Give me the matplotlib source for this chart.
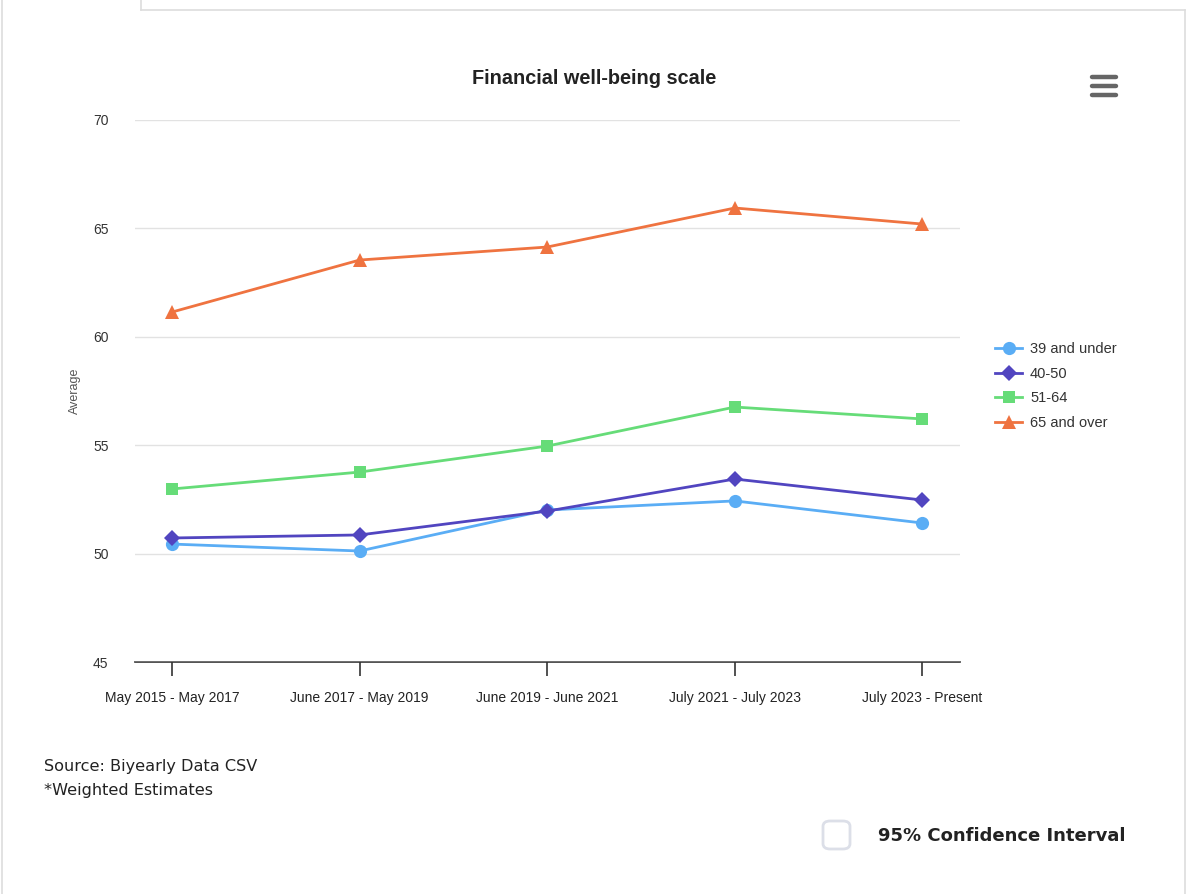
import matplotlib.pyplot as plt
from matplotlib.patches import FancyBboxPatch
from matplotlib.lines import Line2D

plt.rcParams['font.family'] = ['Liberation Sans', 'DejaVu Sans']

periods = ['May 2015 - May 2017', 'June 2017 - May 2019', 'June 2019 - June 2021',
           'July 2021 - July 2023', 'July 2023 - Present']
series_names = ['39 and under', '40-50', '51-64', '65 and over']
under_39 = [50.44, 50.12, 52.01, 52.43, 51.41]
age_40_50 = [50.72, 50.86, 51.96, 53.44, 52.47]
age_51_64 = [52.98, 53.76, 54.96, 56.76, 56.21]
over_65 = [61.14, 63.54, 64.14, 65.94, 65.20]
y_ticks = [45, 50, 55, 60, 65, 70]

colors = ['#5aadf5', '#5145c0', '#66dc78', '#ef7340']
markers = ['o', 'D', 's', '^']
msizes = [9.5, 8, 9, 10]

fig = plt.figure(figsize=(12, 8.94), dpi=100)
ax = fig.add_axes([0.1125, 0.2595, 0.6875, 0.6063])

x = list(range(len(periods)))
all_series = [under_39, age_40_50, age_51_64, over_65]
handles = []
for vals, name, c, m, ms in zip(all_series, series_names, colors, markers, msizes):
    h, = ax.plot(x, vals, color=c, lw=2, marker=m, markersize=ms, label=name,
                 markeredgewidth=0)
    handles.append(h)

ax.set_xlim(-0.197, 4.2)
ax.set_ylim(45, 70)
ax.set_yticks(y_ticks)
ax.set_xticks(x)
ax.set_xticklabels(periods, fontsize=10, color='#222222')
ax.tick_params(axis='y', length=0, pad=19, labelsize=10, labelcolor='#333333')
ax.tick_params(axis='x', length=10, width=1.2, color='#333333', pad=11)
ax.grid(axis='y', color='#e2e2e2', lw=1)
ax.set_axisbelow(True)
for s in ['top', 'right', 'left']:
    ax.spines[s].set_visible(False)
ax.spines['bottom'].set_color('#333333')
ax.spines['bottom'].set_linewidth(1.2)
ax.spines['bottom'].set_zorder(0.5)

ax.set_ylabel('Average', fontsize=9, color='#555555', labelpad=9)
fig.text(0.495, 1 - 78 / 894, 'Financial well-being scale', ha='center', va='center',
         fontsize=14.3, fontweight='bold', color='#222222')

leg = fig.legend(handles=handles, loc='upper left', bbox_to_anchor=(982 / 1200, 1 - 329 / 894),
                 frameon=False, fontsize=10.5, handlelength=1.85, labelspacing=0.72,
                 handletextpad=0.55, labelcolor='#333333')

# footer text
fig.text(44 / 1200, 1 - 766 / 894, 'Source: Biyearly Data CSV', fontsize=11.6,
         family='DejaVu Sans', va='center', color='#222222')
fig.text(44 / 1200, 1 - 791 / 894, '*Weighted Estimates', fontsize=11.6,
         family='DejaVu Sans', va='center', color='#222222')
fig.text(878 / 1200, 1 - 836 / 894, '95% Confidence Interval', fontsize=13,
         family='DejaVu Sans', fontweight='bold', va='center', color='#222222')

# checkbox
box = FancyBboxPatch((823 / 1200, 1 - 849 / 894), 27 / 1200, 28 / 894,
                     boxstyle='round,pad=0,rounding_size=0.006', transform=fig.transFigure,
                     fill=False, edgecolor='#dcdfe8', lw=2)
fig.add_artist(box)

# menu icon
for yy in [77, 86, 95]:
    fig.add_artist(Line2D([1092 / 1200, 1116 / 1200], [1 - yy / 894] * 2,
                          color='#666666', lw=3.2, solid_capstyle='round'))

# page borders
bc = '#dddddd'
fig.add_artist(Line2D([141 / 1200, 141 / 1200], [1, 1 - 10 / 894], color=bc, lw=1.2))
fig.add_artist(Line2D([141 / 1200, 1185 / 1200], [1 - 10 / 894] * 2, color=bc, lw=1.2))
fig.add_artist(Line2D([1185 / 1200, 1185 / 1200], [1 - 10 / 894, 0], color=bc, lw=1.2))
fig.add_artist(Line2D([1.5 / 1200, 1.5 / 1200], [1, 0], color=bc, lw=1.2))

fig.savefig('out.png', dpi=100, facecolor='white')
